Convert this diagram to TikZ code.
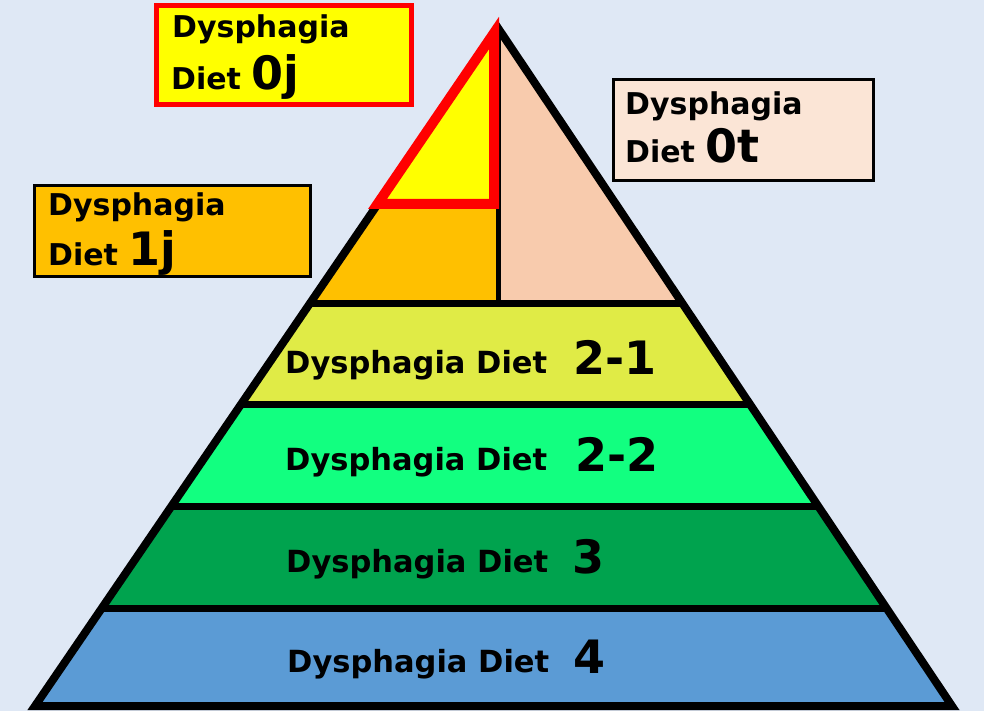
\documentclass[tikz,border=0pt]{standalone}
\usepackage{fontspec}
\setmainfont{DejaVu Sans}
\definecolor{bgc}{HTML}{DFE8F5}
\definecolor{orangec}{HTML}{FFC000}
\definecolor{peachc}{HTML}{F8CBAD}
\definecolor{lightpeach}{HTML}{FBE5D6}
\definecolor{lvlA}{HTML}{E0EB46}
\definecolor{lvlB}{HTML}{12FF80}
\definecolor{lvlC}{HTML}{00A34E}
\definecolor{lvlD}{HTML}{5B9BD5}
\definecolor{yel}{HTML}{FFFF00}
\definecolor{redc}{HTML}{FF0000}
\tikzset{
  smalltxt/.style={anchor=base west, inner sep=0pt, font=\bfseries\fontsize{30}{36}\selectfont},
  bandtxt/.style={anchor=base west, inner sep=0pt, font=\bfseries\fontsize{30.5}{36}\selectfont},
  bignum/.style={anchor=base west, inner sep=0pt, font=\bfseries\fontsize{46}{50}\selectfont},
  divider/.style={line width=7pt, black},
}
\newcommand{\bnum}[1]{{\fontsize{46}{50}\selectfont #1}}
\begin{document}
\begin{tikzpicture}[x=1pt,y=-1pt]
\useasboundingbox (0,0) rectangle (984,711);
\fill[bgc] (0,0) rectangle (984,711);
\coordinate (apex) at (498,28);
\coordinate (bl) at (35,706);
\coordinate (br) at (952,706);
\begin{scope}
  \clip (apex) -- (bl) -- (br) -- cycle;
  \fill[orangec] (0,0) rectangle (497,303);
  \fill[peachc] (497,0) rectangle (984,303);
  \fill[lvlA] (0,303) rectangle (984,404);
  \fill[lvlB] (0,404) rectangle (984,506);
  \fill[lvlC] (0,506) rectangle (984,608);
  \fill[lvlD] (0,608) rectangle (984,711);
  \draw[divider] (0,303) -- (984,303);
  \draw[divider] (0,404) -- (984,404);
  \draw[divider] (0,506) -- (984,506);
  \draw[divider] (0,608) -- (984,608);
  \draw[line width=5pt] (498.5,0) -- (498.5,303);
\end{scope}
\draw[line width=8pt, line join=miter] (apex) -- (bl) -- (br) -- cycle;
% red triangle (Dysphagia Diet 0j zone)
\coordinate (rt) at (494,33);
\coordinate (rb) at (494,204);
\coordinate (rl) at (377.5,204);
\filldraw[fill=yel, draw=redc, line width=10pt, line join=miter] (rt) -- (rb) -- (rl) -- cycle;
% label boxes
\draw[fill=yel, draw=redc, line width=5pt] (156,6) rectangle (411,105);
\draw[fill=lightpeach, line width=3pt] (613.5,79.5) rectangle (873.5,180.5);
\draw[fill=orangec, line width=3pt] (34.5,185.5) rectangle (310.5,276.5);
\node[smalltxt] (a1) at (172,38) {Dysphagia};
\node[smalltxt] (a2) at (171,90) {Diet \bnum{0j}};
\node[smalltxt] (b1) at (625,115) {Dysphagia};
\node[smalltxt] (b2) at (625,163) {Diet \bnum{0t}};
\node[smalltxt] (c1) at (48,215) {Dysphagia};
\node[smalltxt] (c2) at (48,265) {Diet \bnum{1j}};
% band labels
\node[bandtxt] (d1) at (285,373) {Dysphagia Diet};
\node[bignum] (d2) at (573,374) {2-1};
\node[bandtxt] (e1) at (285,470) {Dysphagia Diet};
\node[bignum] (e2) at (575,471) {2-2};
\node[bandtxt] (f1) at (286,572) {Dysphagia Diet};
\node[bignum] (f2) at (572,573) {3};
\node[bandtxt] (g1) at (287,672) {Dysphagia Diet};
\node[bignum] (g2) at (573,673) {4};
\end{tikzpicture}
\end{document}
